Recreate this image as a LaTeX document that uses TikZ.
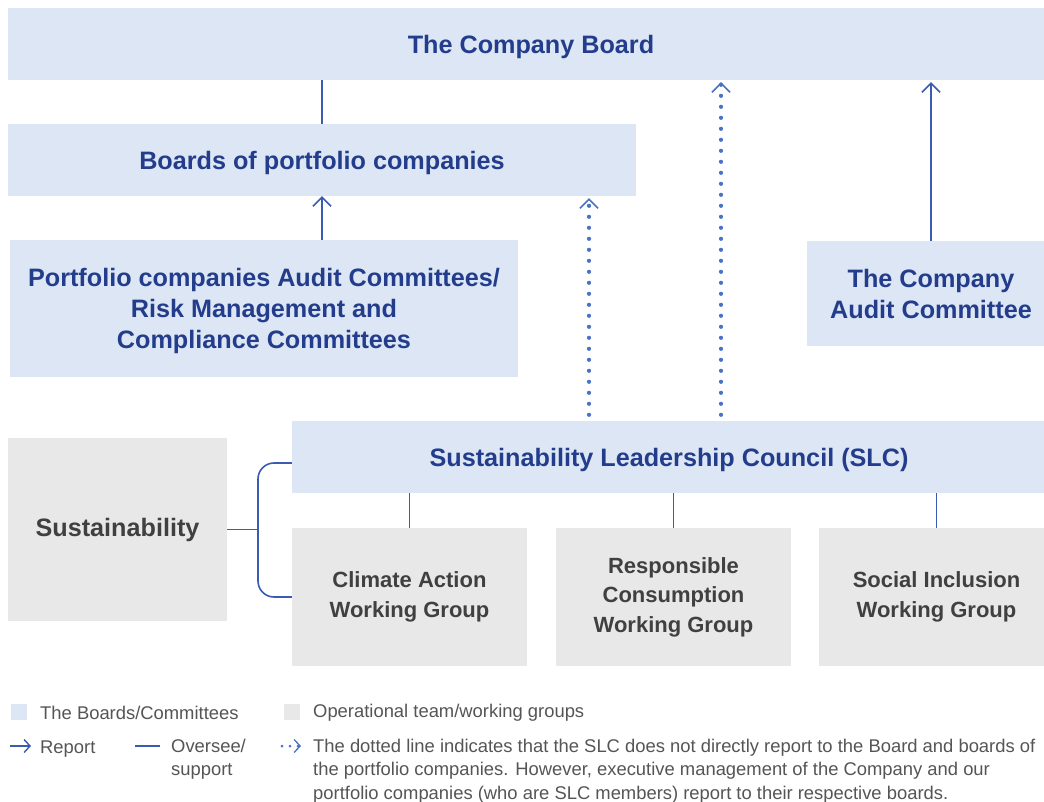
\documentclass[tikz,border=0pt]{standalone}
\usepackage{fontspec}
\setmainfont{Liberation Sans}
\usetikzlibrary{arrows.meta}
\definecolor{boxblue}{HTML}{DCE6F4}
\definecolor{boxgray}{HTML}{E8E8E8}
\definecolor{navy}{HTML}{233D8C}
\definecolor{darkgray}{HTML}{404040}
\definecolor{linec}{HTML}{3A5BB0}
\definecolor{dotc}{HTML}{4A72C4}
\definecolor{legtext}{HTML}{555555}
\begin{document}
\begin{tikzpicture}[x=1pt,y=-1pt,
  bluebox/.style={fill=boxblue, draw=none, inner sep=0pt, text=navy, text depth=0pt,
    font=\bfseries\fontsize{25.2}{31}\selectfont, align=center},
  graybox/.style={fill=boxgray, draw=none, inner sep=0pt, text=darkgray,
    font=\bfseries\fontsize{22}{29.5}\selectfont, align=center},
  rep/.style={draw=linec, line width=1.6pt, -{Straight Barb[length=9pt,width=18pt]}},
  ovs/.style={draw=linec, line width=1.6pt},
  dotarrow/.style={draw=dotc, line width=4.2pt, line cap=round, dash pattern=on 0pt off 11pt,
    -{Straight Barb[length=9pt,width=18pt,line width=1.6pt]}},
  legtxt/.style={font=\fontsize{18.4}{23.5}\selectfont, text=legtext, inner sep=0pt, align=left},
  legsq/.style={minimum size=16pt, inner sep=0pt, draw=none}]
\clip (0,0) rectangle (1044,802);
\useasboundingbox (0,0) rectangle (1044,802);
\fill[white] (0,0) rectangle (1044,802);

% boxes
\node[bluebox, minimum width=1046pt, minimum height=72pt] (board) at (531,44) {The Company Board};
\node[bluebox, minimum width=628pt, minimum height=72pt] (pboards) at (322,160) {Boards of portfolio companies};
\node[bluebox, minimum width=508pt, minimum height=137pt] (pac) at (264,308.5)
  {Portfolio companies Audit Committees/\\Risk Management and\\Compliance Committees};
\node[bluebox, minimum width=248pt, minimum height=105pt] (cac) at (931,293.5)
  {The Company\\Audit Committee};
\node[bluebox, minimum width=754pt, minimum height=72pt] (slc) at (669,457)
  {Sustainability Leadership Council (SLC)};
\node[graybox, minimum width=219pt, minimum height=183pt] (sust) at (117.5,529.5)
  {\fontsize{25.2}{31}\selectfont Sustainability};
\node[graybox, minimum width=235pt, minimum height=138pt] (climate) at (409.5,597)
  {Climate Action\\Working Group};
\node[graybox, minimum width=235pt, minimum height=138pt] (resp) at (673.5,597)
  {Responsible\\Consumption\\Working Group};
\node[graybox, minimum width=235pt, minimum height=138pt] (social) at (936.5,597)
  {Social Inclusion\\Working Group};

% connectors
\draw[ovs] (pboards.north) -- (pboards.north |- board.south);
\draw[rep] (pboards.south |- pac.north) -- (pboards.south);
\draw[rep, shorten >=2pt] (cac.north) -- (cac.north |- board.south);
\coordinate (d1) at (589,0);
\coordinate (d2) at (721,0);
\draw[dotarrow, shorten <=6pt, shorten >=2pt] (d1 |- slc.north) -- (d1 |- pboards.south);
\draw[dotarrow, shorten <=6pt, shorten >=2pt] (d2 |- slc.north) -- (d2 |- board.south);
\draw[ovs] (slc.south -| climate.north) -- (climate.north);
\draw[ovs] (slc.south -| resp.north) -- (resp.north);
\draw[ovs] (slc.south -| social.north) -- (social.north);
\coordinate (bx) at (258,0);
\draw[ovs] (sust.east) -- (sust.east -| bx);
\draw[ovs, rounded corners=16pt] ([yshift=-6pt]slc.west) -| (bx |- climate.west) -- (climate.west);

% legend
\node[legsq, fill=boxblue] (lb) at (19,712) {};
\node[legtxt, anchor=west] (lbt) at (40,713) {The Boards/Committees};
\node[legsq, fill=boxgray] (lg) at (292,712) {};
\node[legtxt, anchor=west] (lgt) at (313,713) {Operational team/working groups};
\coordinate (ra) at (10,746);
\coordinate (rb) at (31,746);
\draw[draw=linec, line width=1.4pt, -{Straight Barb[length=6pt,width=13pt]}] (ra) -- (rb);
\node[legtxt, anchor=west] (rt) at (40,749) {Report};
\coordinate (oa) at (135,746);
\coordinate (ob) at (160,746);
\draw[ovs] (oa) -- (ob);
\node[legtxt, anchor=north west] (ot) at (171,738.5) {Oversee/\\support};
\coordinate (da) at (282,746);
\coordinate (db) at (301,746);
\draw[draw=dotc, line width=3pt, line cap=round, dash pattern=on 0pt off 8pt,
  -{Straight Barb[length=6pt,width=13pt,line width=1.3pt]}] (da) -- (db);
\node[legtxt, anchor=north west] (dt) at (313,738.5)
  {The dotted line indicates that the SLC does not directly report to the Board and boards of\\
   the portfolio companies. However, executive management of the Company and our\\
   portfolio companies (who are SLC members) report to their respective boards.};
\end{tikzpicture}
\end{document}
